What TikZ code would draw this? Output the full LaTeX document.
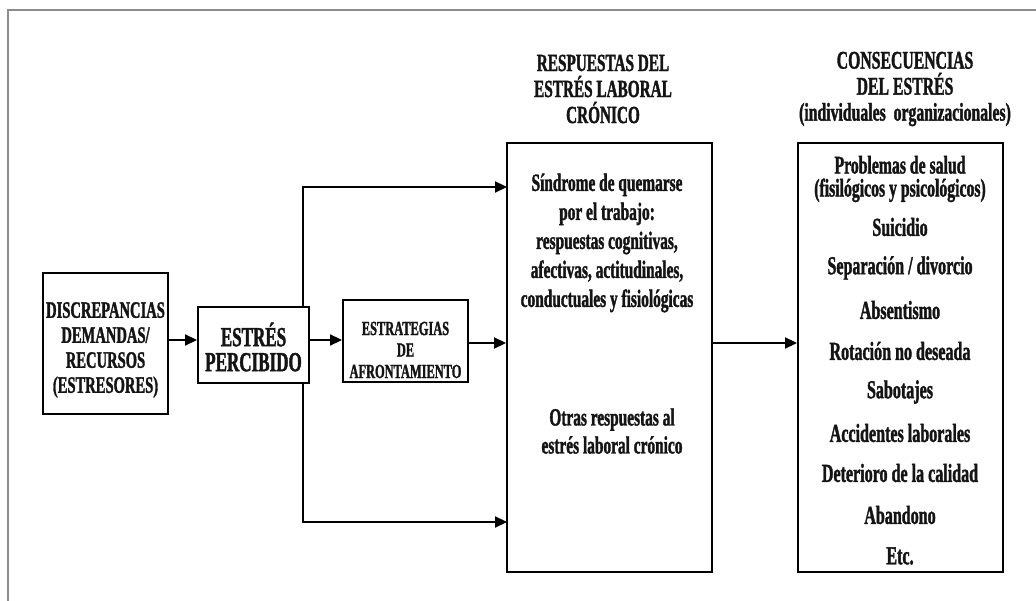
\documentclass[tikz,border=0pt]{standalone}
\usepackage{fontspec}
\setmainfont{Liberation Serif}[FakeStretch=0.62,FakeBold=1.4]
\usetikzlibrary{arrows.meta}
\begin{document}
\begin{tikzpicture}[x=1pt,y=-1pt,
  boxst/.style={draw=black,line width=2pt,fill=white,inner sep=0pt},
  txt/.style={align=center,inner sep=0pt,text=black!92,font=\bfseries\fontsize{25.9}{25}\selectfont},
  arr/.style={line width=2.2pt,-{Triangle[length=12pt,width=11pt]}},
  frame/.style={draw=black!45,line width=2.5pt}]
\useasboundingbox (0,0) rectangle (1036,601);
% frame
\coordinate (f1) at (8,601);
\coordinate (f2) at (8,10);
\coordinate (f3) at (1036,10);
\draw[frame] (f1) -- (f2) -- (f3);
% headers
\node[txt,font=\bfseries\fontsize{24.6}{26}\selectfont] (h1) at (603,89) {RESPUESTAS DEL\\ESTRÉS LABORAL\\CRÓNICO};
\node[txt,font=\bfseries\fontsize{25.4}{26}\selectfont] (h2) at (905,89) {CONSECUENCIAS\\DEL ESTRÉS\\(individuales\ \ organizacionales)};
% coordinates
\coordinate (vtop) at (303,187);
\coordinate (vbot) at (303,522);
\coordinate (vmid) at (303,345);
\coordinate (ya) at (0,340);
\coordinate (yb) at (0,343);
% vertical branch lines (behind box 2)
\draw[arr] (vmid) -- (vtop) -- (507,187) coordinate (atop);
\draw[arr] (vmid) -- (vbot) -- (507,522) coordinate (abot);
% boxes
\node[boxst,minimum width=125pt,minimum height=141pt] (b1) at (105.5,343.5) {};
\node[txt,font=\bfseries\fontsize{23.5}{25}\selectfont] (t1) at (105.5,350) {DISCREPANCIAS\\DEMANDAS/\\RECURSOS\\(ESTRESORES)};
\node[boxst,minimum width=111pt,minimum height=76pt] (b2) at (253.5,345) {};
\node[txt,font=\bfseries\fontsize{27.5}{25}\selectfont] (t2) at (253.5,347) {ESTRÉS\\PERCIBIDO};
\node[boxst,minimum width=125pt,minimum height=82pt] (b3) at (405.5,341) {};
\node[txt,font=\bfseries\fontsize{20}{21.5}\selectfont] (t3) at (405.5,350) {ESTRATEGIAS\\DE\\AFRONTAMIENTO};
\node[boxst,minimum width=205pt,minimum height=429pt] (R) at (609.5,357.5) {};
\node[txt,font=\bfseries\fontsize{24.8}{29}\selectfont] (r1) at (607,243) {Síndrome de quemarse\\por el trabajo:\\respuestas cognitivas,\\afectivas, actitudinales,\\conductuales y fisiológicas};
\node[txt,font=\bfseries\fontsize{24.8}{28}\selectfont] (r2) at (612,431) {Otras respuestas al\\estrés laboral crónico};
\node[boxst,minimum width=205pt,minimum height=429pt] (C) at (900.5,357.5) {};
\node[txt,font=\bfseries\fontsize{25.4}{23}\selectfont] (c1) at (900,179) {Problemas de salud\\(fisilógicos y psicológicos)};
\node[txt] (c2) at (900,227) {Suicidio};
\node[txt] (c3) at (900,268) {Separación / divorcio};
\node[txt] (c4) at (900,310) {Absentismo};
\node[txt] (c5) at (900,351) {Rotación no deseada};
\node[txt] (c6) at (900,392) {Sabotajes};
\node[txt] (c7) at (900,433) {Accidentes laborales};
\node[txt] (c8) at (900,473) {Deterioro de la calidad};
\node[txt] (c9) at (900,515) {Abandono};
\node[txt] (c10) at (900,556) {Etc.};
% connectors
\draw[arr] (b1.east |- ya) -- (b2.west |- ya);
\draw[arr] (b2.east |- ya) -- (b3.west |- ya);
\draw[arr] (b3.east |- yb) -- (R.west |- yb);
\draw[arr] (R.east |- yb) -- (C.west |- yb);
\end{tikzpicture}
\end{document}
